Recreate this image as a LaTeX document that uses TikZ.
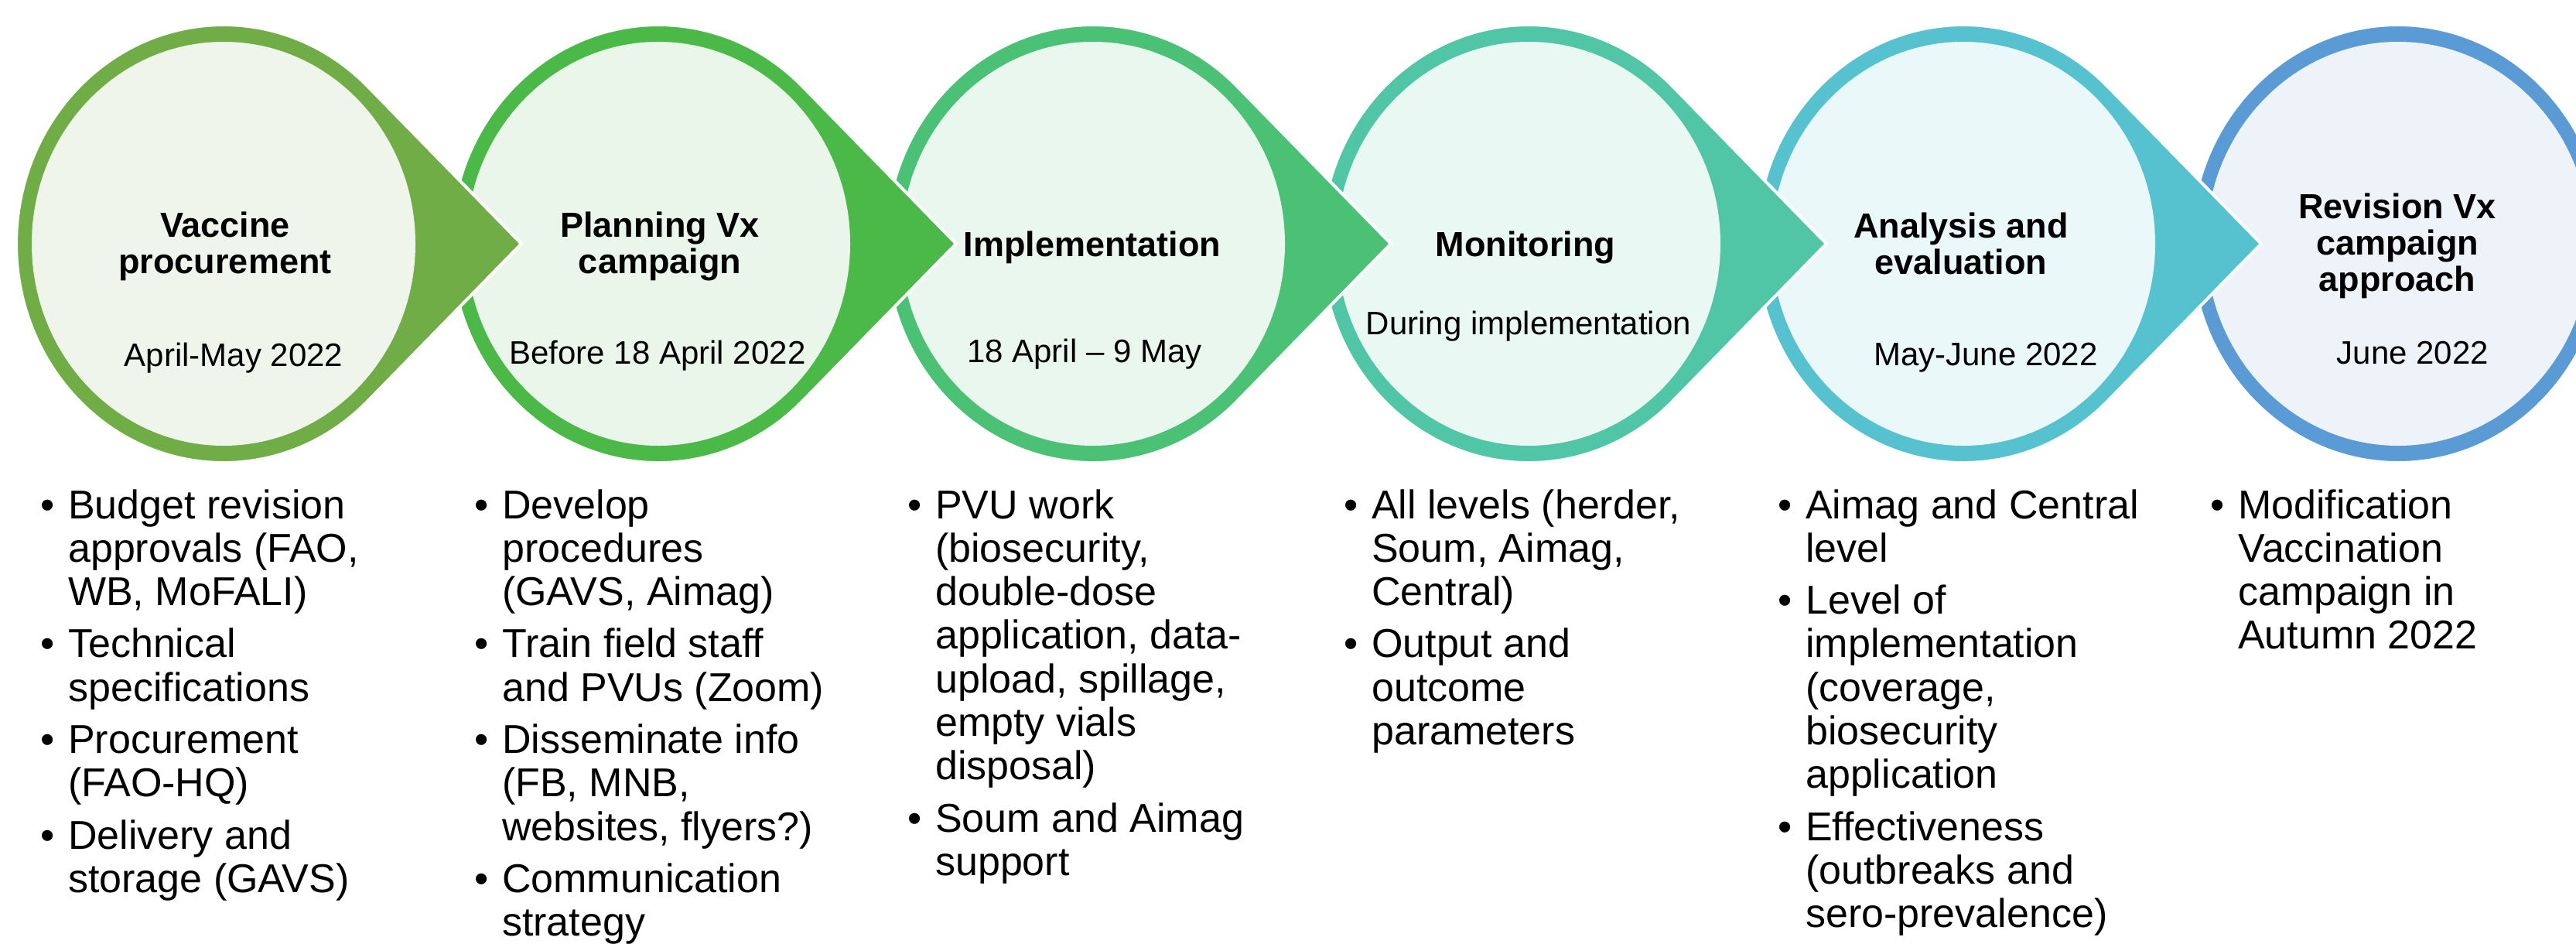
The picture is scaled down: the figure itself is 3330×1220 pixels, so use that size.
\documentclass[tikz,border=0pt]{standalone}
\usepackage{fontspec}
\setmainfont{Liberation Sans}

% ring and fill colours of the six stages
\definecolor{ringA}{HTML}{70AD47}\definecolor{fillA}{HTML}{EFF5EA}
\definecolor{ringB}{HTML}{4BB947}\definecolor{fillB}{HTML}{EAF6EA}
\definecolor{ringC}{HTML}{4BC176}\definecolor{fillC}{HTML}{EAF7EF}
\definecolor{ringD}{HTML}{50C6A6}\definecolor{fillD}{HTML}{EAF8F3}
\definecolor{ringE}{HTML}{56C2CF}\definecolor{fillE}{HTML}{EBF8F9}
\definecolor{ringF}{HTML}{5B9BD5}\definecolor{fillF}{HTML}{EEF3FA}

\tikzset{
  ringshape/.style={draw=white, line width=4pt},
  stagetitle/.style={inner sep=0pt, anchor=base, font=\bfseries\fontsize{45}{47}\selectfont},
  stagedate/.style={inner sep=0pt, anchor=base, font=\fontsize{42}{46}\selectfont},
  bulletcol/.style={inner sep=0pt, anchor=base west, font=\fontsize{52}{56.3}\selectfont},
}

% outer ring with a pointer to the right, then the light inner disc
\newcommand\stagearrow[3]{%
  \path[ringshape, fill=#2] (#1+385,315) -- (#1+186.6,518.2)
    arc[start angle=45.88, end angle=314.12, x radius=268, y radius=283] -- cycle;
  \path[fill=#3] (#1,315) ellipse[x radius=248, y radius=261];}
\newcommand\stageplain[3]{%
  \path[ringshape, fill=#2] (#1,315) ellipse[x radius=268, y radius=283];
  \path[fill=#3] (#1,315) ellipse[x radius=248, y radius=261];}

\newcommand\bl{\makebox[35.5pt][l]{\textbullet}}
\newcommand\gap{\\[11pt]}

\begin{document}
\begin{tikzpicture}[x=1pt, y=-1pt]
\useasboundingbox (0,0) rectangle (3330,1220);
\clip (0,0) rectangle (3330,1220);

% stages, drawn right to left so each pointer lies over the next ring
\stageplain{3100}{ringF}{fillF}
\stagearrow{2538}{ringE}{fillE}
\stagearrow{1976}{ringD}{fillD}
\stagearrow{1413}{ringC}{fillC}
\stagearrow{851}{ringB}{fillB}
\stagearrow{289}{ringA}{fillA}

% titles
\node[stagetitle] (t1) at (291,306) {\begin{tabular}[t]{@{}c@{}}Vaccine\\procurement\end{tabular}};
\node[stagetitle] (t2) at (853,306) {\begin{tabular}[t]{@{}c@{}}Planning Vx\\campaign\end{tabular}};
\node[stagetitle] (t3) at (1412,331) {Implementation};
\node[stagetitle] (t4) at (1972,331) {Monitoring};
\node[stagetitle] (t5) at (2535,307) {\begin{tabular}[t]{@{}c@{}}Analysis and\\evaluation\end{tabular}};
\node[stagetitle] (t6) at (3099,282) {\begin{tabular}[t]{@{}c@{}}Revision Vx\\campaign\\approach\end{tabular}};

% periods
\node[stagedate] (d1) at (302,473) {April-May 2022};
\node[stagedate] (d2) at (850,470) {Before 18 April 2022};
\node[stagedate] (d3) at (1402,468) {18 April – 9 May};
\node[stagedate] (d4) at (1976,432) {During implementation};
\node[stagedate] (d5) at (2567,472) {May-June 2022};
\node[stagedate] (d6) at (3119,470) {June 2022};

% activity lists
\node[bulletcol] (l1) at (52.5,670) {\begin{tabular}[t]{@{}l@{}l@{}}
\bl & Budget revision\\ & approvals (FAO,\\ & WB, MoFALI)\gap
\bl & Technical\\ & specifications\gap
\bl & Procurement\\ & (FAO-HQ)\gap
\bl & Delivery and\\ & storage (GAVS)
\end{tabular}};

\node[bulletcol] (l2) at (613.5,670) {\begin{tabular}[t]{@{}l@{}l@{}}
\bl & Develop\\ & procedures\\ & (GAVS, Aimag)\gap
\bl & Train field staff\\ & and PVUs (Zoom)\gap
\bl & Disseminate info\\ & (FB, MNB,\\ & websites, flyers?)\gap
\bl & Communication\\ & strategy
\end{tabular}};

\node[bulletcol] (l3) at (1173.5,670) {\begin{tabular}[t]{@{}l@{}l@{}}
\bl & PVU work\\ & (biosecurity,\\ & double-dose\\ & application, data-\\ & upload, spillage,\\ & empty vials\\ & disposal)\gap
\bl & Soum and Aimag\\ & support
\end{tabular}};

\node[bulletcol] (l4) at (1737.5,670) {\begin{tabular}[t]{@{}l@{}l@{}}
\bl & All levels (herder,\\ & Soum, Aimag,\\ & Central)\gap
\bl & Output and\\ & outcome\\ & parameters
\end{tabular}};

\node[bulletcol] (l5) at (2298.5,670) {\begin{tabular}[t]{@{}l@{}l@{}}
\bl & Aimag and Central\\ & level\gap
\bl & Level of\\ & implementation\\ & (coverage,\\ & biosecurity\\ & application\gap
\bl & Effectiveness\\ & (outbreaks and\\ & sero-prevalence)
\end{tabular}};

\node[bulletcol] (l6) at (2857.5,670) {\begin{tabular}[t]{@{}l@{}l@{}}
\bl & Modification\\ & Vaccination\\ & campaign in\\ & Autumn 2022
\end{tabular}};
\end{tikzpicture}
\end{document}
